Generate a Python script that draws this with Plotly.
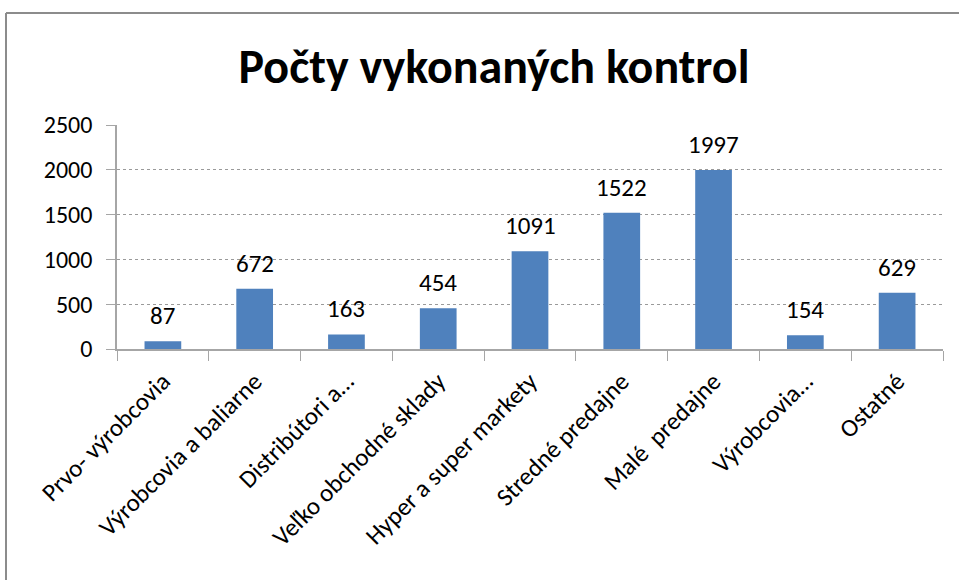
import plotly.graph_objects as go

categories = ["Prvo- výrobcovia", "Výrobcovia a baliarne", "Distribútori a…",
              "Veľko obchodné sklady", "Hyper a super markety", "Stredné predajne",
              "Malé  predajne", "Výrobcovia…", "Ostatné"]
values = [87, 672, 163, 454, 1091, 1522, 1997, 154, 629]
y_ticks = [0, 500, 1000, 1500, 2000, 2500]
title_text = "Počty vykonaných kontrol"

FONT = "Carlito, Lato, Open Sans, sans-serif"

fig = go.Figure()
fig.add_trace(go.Bar(x=categories, y=values, marker=dict(color="#4f81bd", line=dict(color="#4f81bd", width=0)),
                     width=0.4))

for c, v in zip(categories, values):
    fig.add_annotation(x=c, y=v, text=str(v), showarrow=False, yanchor="bottom", yshift=8,
                       font=dict(family=FONT, size=25, color="#000000"))

fig.update_layout(
    width=959, height=580,
    margin=dict(l=117, r=16, t=125, b=231),
    paper_bgcolor="white", plot_bgcolor="white",
    showlegend=False,
    title=dict(text="<b>" + title_text + "</b>", x=494 / 959, xanchor="center", y=1 - 66 / 580, yanchor="middle",
               font=dict(family=FONT, size=48, color="#000000")),
    xaxis=dict(showline=True, linecolor="#a6a6a6", linewidth=1.5, ticks="outside", ticklen=10,
               tickcolor="#a6a6a6", tickson="boundaries", tickangle=-45, ticklabelstandoff=6,
               tickfont=dict(family=FONT, size=25, color="#000000"), showgrid=False),
    yaxis=dict(range=[0, 2500], tickvals=y_ticks, showline=True, linecolor="#a6a6a6", linewidth=1.5,
               ticks="outside", ticklen=9, tickcolor="#a6a6a6", ticklabelstandoff=9,
               showgrid=True, gridcolor="#9a9a9a", griddash="dot", gridwidth=1,
               tickfont=dict(family=FONT, size=24, color="#000000"), zeroline=False),
)

# outer chart frame (left and top edges visible)
fig.add_shape(type="line", xref="paper", yref="paper", x0=(6 - 117) / 826, x1=2, y0=1 + (125 - 13) / 224,
              y1=1 + (125 - 13) / 224, line=dict(color="#8c8c8c", width=2))
fig.add_shape(type="line", xref="paper", yref="paper", x0=(6 - 117) / 826, x1=(6 - 117) / 826,
              y0=-2, y1=1 + (125 - 13) / 224, line=dict(color="#8c8c8c", width=2))

fig.write_html("out.html", config={"displayModeBar": False},
               post_script="document.body.style.margin='0';")
